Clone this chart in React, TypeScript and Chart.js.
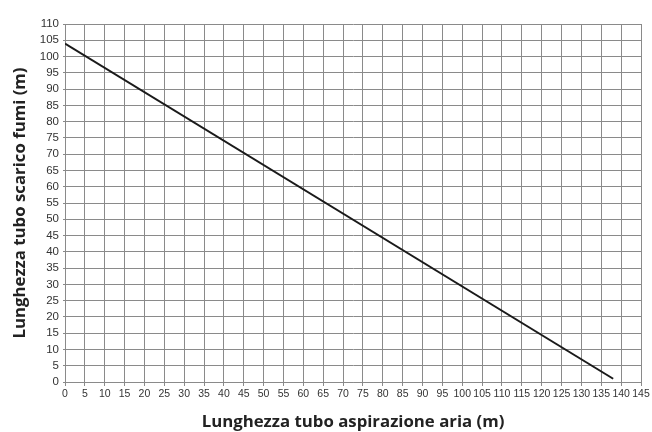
import React, { useEffect, useRef } from "react";
import { Chart, registerables } from "chart.js";

Chart.register(...registerables);

const aspirazioneAria = [0, 138];
const scaricoFumi = [104, 1];
const xTitle = "Lunghezza tubo aspirazione aria (m)";
const yTitle = "Lunghezza tubo scarico fumi (m)";

export default function App() {
  const ref = useRef<HTMLCanvasElement | null>(null);
  useEffect(() => {
    document.body.style.margin = "0";
    const ctx = ref.current!.getContext("2d")!;
    const xTickFont = { family: "'Liberation Sans', Arial", size: 10.5 };
    const yTickFont = { family: "'Liberation Sans', Arial", size: 11.5 };
    const titleFont = { family: "'Open Sans', sans-serif", size: 16.8, weight: "bold" as const };
    const chart = new Chart(ctx, {
      type: "scatter",
      data: {
        datasets: [
          {
            data: aspirazioneAria.map((x, i) => ({ x, y: scaricoFumi[i] })),
            showLine: true,
            borderColor: "#1a1a1a",
            borderWidth: 2,
            pointRadius: 0,
          },
        ],
      },
      options: {
        animation: false,
        responsive: false,
        layout: { padding: { left: 0, top: 24, right: 11, bottom: 0 } },
        plugins: { legend: { display: false }, tooltip: { enabled: false } },
        scales: {
          x: {
            type: "linear",
            min: 0,
            max: 145,
            ticks: { stepSize: 5, color: "#333", font: xTickFont, padding: 2, maxRotation: 0, autoSkip: false },
            grid: { color: "#8a8a8a", lineWidth: 1, tickLength: 4 },
            border: { color: "#8a8a8a" },
            title: { display: true, text: xTitle, color: "#222", font: titleFont, padding: { top: 0, bottom: 0 } },
            afterFit: (s: any) => { s.height = 50; },
          },
          y: {
            type: "linear",
            min: 0,
            max: 110,
            ticks: { stepSize: 5, color: "#333", font: yTickFont, padding: 4, autoSkip: false },
            grid: { color: "#8a8a8a", lineWidth: 1, tickLength: 2 },
            border: { color: "#8a8a8a" },
            title: { display: true, text: yTitle, color: "#222", font: titleFont, padding: { top: 10, bottom: 0 } },
            afterFit: (s: any) => { s.width = 65; },
          },
        },
      },
    });
    return () => chart.destroy();
  }, []);
  return (
    <div style={{ width: 652, height: 432, background: "#fff" }}>
      <canvas ref={ref} width={652} height={432} />
    </div>
  );
}
